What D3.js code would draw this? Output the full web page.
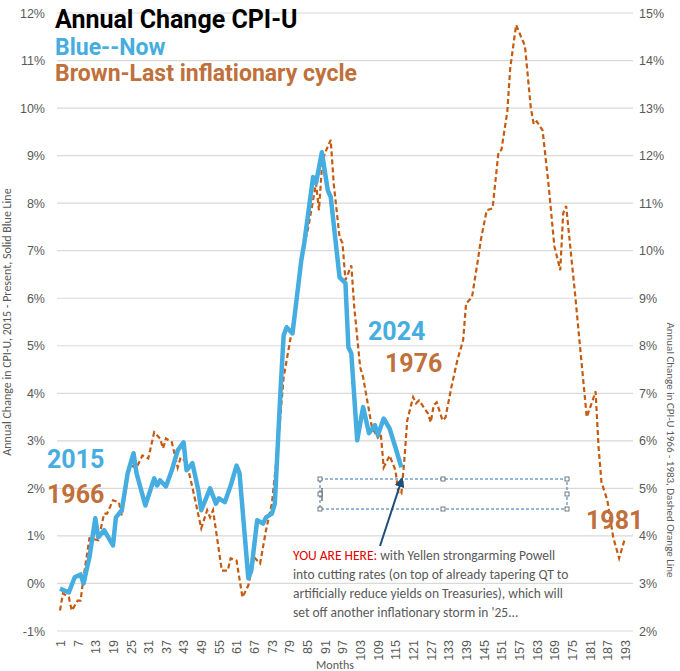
<!DOCTYPE html>
<html><head><meta charset="utf-8">
<script src="https://cdn.jsdelivr.net/npm/d3@7"></script>
<style>body{margin:0;background:#fff}svg{font-family:Calibri,Carlito,"Open Sans",sans-serif}</style>
</head><body><svg id="c" width="680" height="671"></svg>
<script>
// Blue: 2015 - present, left axis (%)
const blueMonths = [1,4,6,8,9,11,13,14,16,19,20,22,24,26,27,30,33,34,35,37,39,41,43,44,46,48,49,52,54,55,57,59,61,62,65,66,68,70,71,73,74,76,77,78,80,83,84,87,88,90,92,93,96,98,99,100,102,104,106,108,109,111,113,115,117];
const blueValues = [-0.11,-0.19,0.13,0.19,0.0,0.55,1.37,0.97,1.12,0.8,1.39,1.54,2.32,2.74,2.32,1.64,2.21,2.06,2.17,2.04,2.38,2.8,2.97,2.38,2.53,1.96,1.54,2.0,1.68,1.79,1.71,2.06,2.48,2.32,0.11,0.27,1.33,1.26,1.39,1.47,1.68,4.13,5.22,5.39,5.26,6.8,7.16,8.55,8.42,9.07,8.27,8.13,6.44,6.32,4.97,4.84,3.01,3.71,3.16,3.33,3.12,3.47,3.26,2.86,2.44];
// Brown: 1966 - 1981, right axis (%)
const brownMonths = [1,2,4,5,7,8,9,11,14,16,17,19,21,22,24,25,27,29,31,33,35,36,37,39,41,42,44,46,49,51,52,53,56,58,59,61,63,65,67,69,71,73,75,77,80,82,84,85,86,87,88,89,90,91,93,94,96,97,98,100,101,103,104,106,107,109,110,111,113,115,116,117,118,119,121,122,123,126,127,128,129,131,132,134,136,138,139,141,143,144,146,148,150,151,153,154,156,157,159,161,162,163,165,167,169,171,172,173,176,178,180,182,183,184,185,187,189,191,193];
const brownValues = [2.43,2.79,2.71,2.43,2.64,2.64,3.13,3.95,3.91,4.47,4.47,4.75,4.71,4.43,5.23,5.48,5.44,5.69,5.63,6.18,6.05,5.84,6.05,5.97,5.44,5.65,5.55,5.02,4.16,4.54,4.39,4.54,3.27,3.27,3.53,3.48,2.71,2.96,3.55,3.42,4.12,4.68,5.86,7.34,8.39,9.23,10.16,10.37,10.71,11.06,11.42,10.85,11.76,12.05,12.33,11.42,10.28,10.16,9.38,9.69,8.81,7.55,7.34,6.64,6.28,6.07,6.16,5.44,5.69,5.38,4.89,4.89,5.59,6.43,6.92,6.79,6.85,6.58,6.39,6.75,6.81,6.43,6.49,7.13,7.69,8.12,8.89,9.02,9.8,10.22,10.85,10.89,12.07,12.12,12.92,13.84,14.75,14.6,14.31,13.0,12.66,12.72,12.53,11.4,10.09,9.59,10.79,10.94,9.11,7.8,6.5,6.85,7.04,5.88,5.13,4.75,3.97,3.53,3.95];
const leftTicks = [-1,0,1,2,3,4,5,6,7,8,9,10,11,12];
const rightTicks = [2,3,4,5,6,7,8,9,10,11,12,13,14,15];
const monthTicks = d3.range(1, 194, 6);
const noteLines = ["with Yellen strongarming Powell","into cutting rates (on top of already tapering QT to","artificially reduce yields on Treasuries), which will","set off another inflationary storm in '25..."];

const svg = d3.select("#c");
const x = d3.scaleLinear().domain([1, 193]).range([60, 625]);
const yL = d3.scaleLinear().domain([-1, 12]).range([631, 13]);
const yR = d3.scaleLinear().domain([2, 15]).range([631, 13]);
const grey = "#595959";

svg.append("g").selectAll("line").data(leftTicks).join("line")
  .attr("x1", 57).attr("x2", 633).attr("y1", d => yL(d)).attr("y2", d => yL(d))
  .attr("stroke", "#d9d9d9").attr("stroke-width", 1.2);

const axL = svg.append("g").attr("transform", "translate(48,0)")
  .call(d3.axisLeft(yL).tickValues(leftTicks).tickSize(0).tickFormat(d => d + "%"));
const axR = svg.append("g").attr("transform", "translate(636,0)")
  .call(d3.axisRight(yR).tickValues(rightTicks).tickSize(0).tickFormat(d => d + "%"));
const axB = svg.append("g").attr("transform", "translate(0,636)")
  .call(d3.axisBottom(x).tickValues(monthTicks).tickSize(0));
[axL, axR, axB].forEach(a => { a.select(".domain").remove(); a.selectAll("text").attr("fill", grey).attr("font-size", 12.5); });
axB.selectAll("text").attr("transform", "rotate(-90)").attr("text-anchor", "end")
  .attr("x", -4).attr("y", 0).attr("dy", "0.35em");

svg.append("text").attr("transform", "translate(11,322) rotate(-90)").attr("text-anchor", "middle")
  .attr("fill", grey).attr("font-size", 12).text("Annual Change in CPI-U, 2015 - Present, Solid Blue Line");
svg.append("text").attr("transform", "translate(667,450) rotate(90)").attr("text-anchor", "middle")
  .attr("fill", grey).attr("font-size", 11).text("Annual Change in CPI-U 1966 - 1983, Dashed Orange Line");
svg.append("text").attr("x", 335).attr("y", 669).attr("text-anchor", "middle")
  .attr("fill", grey).attr("font-size", 12).text("Months");

const brown = brownMonths.map((m, i) => [m, brownValues[i]]);
const blue = blueMonths.map((m, i) => [m, blueValues[i]]);
svg.append("path").datum(brown).attr("fill", "none").attr("stroke", "#c55a11")
  .attr("stroke-width", 2.2).attr("stroke-dasharray", "5,3")
  .attr("d", d3.line().x(d => x(d[0])).y(d => yR(d[1])));
svg.append("path").datum(blue).attr("fill", "none").attr("stroke", "#45ade0")
  .attr("stroke-width", 4.5).attr("stroke-linejoin", "round")
  .attr("d", d3.line().x(d => x(d[0])).y(d => yL(d[1])));

// titles and labels
const t = (xx, yy, s, col, size) => svg.append("text").attr("x", xx).attr("y", yy)
  .attr("fill", col).attr("font-size", size).attr("font-weight", "bold")
  .attr("font-family", "Roboto, sans-serif").text(s);
t(55, 28, "Annual Change CPI-U", "#000", 25);
t(55, 55, "Blue--Now", "#45ade0", 23);
t(55, 81, "Brown-Last inflationary cycle", "#c0703a", 23);
t(47, 468, "2015", "#45ade0", 25);
t(47, 503, "1966", "#c0703a", 25);
t(368, 340, "2024", "#45ade0", 25);
t(385, 372, "1976", "#c0703a", 25);
t(586, 529, "1981", "#c0703a", 25);

// annotation box
const box = svg.append("g");
box.append("rect").attr("x", 320).attr("y", 479).attr("width", 247).attr("height", 30)
  .attr("fill", "none").attr("stroke", "#2e75b6").attr("stroke-dasharray", "3,2").attr("stroke-width", 1);
box.append("line").attr("x1", 322).attr("x2", 322).attr("y1", 488).attr("y2", 501).attr("stroke", "#333");
[[320,479],[443,479],[567,479],[320,494],[567,494],[320,509],[443,509],[567,509]].forEach(p =>
  box.append("rect").attr("x", p[0] - 2).attr("y", p[1] - 2).attr("width", 4).attr("height", 4)
    .attr("fill", "#fff").attr("stroke", "#555").attr("stroke-width", 0.8));
svg.append("defs").append("marker").attr("id", "ah").attr("viewBox", "0 0 10 10").attr("refX", 8).attr("refY", 5)
  .attr("markerWidth", 5).attr("markerHeight", 5).attr("orient", "auto")
  .append("path").attr("d", "M0,0L10,5L0,10z").attr("fill", "#1f4e79");
svg.append("line").attr("x1", 380).attr("y1", 546).attr("x2", 402).attr("y2", 479)
  .attr("stroke", "#1f4e79").attr("stroke-width", 2).attr("marker-end", "url(#ah)");

const note = svg.append("text").attr("font-size", 13.5).attr("fill", grey);
note.append("tspan").attr("x", 293).attr("y", 560).attr("fill", "#e00000").text("YOU ARE HERE: ");
note.append("tspan").text(noteLines[0]);
noteLines.slice(1).forEach((s, i) => note.append("tspan").attr("x", 293).attr("y", 579 + i * 19).text(s));
</script></body></html>
